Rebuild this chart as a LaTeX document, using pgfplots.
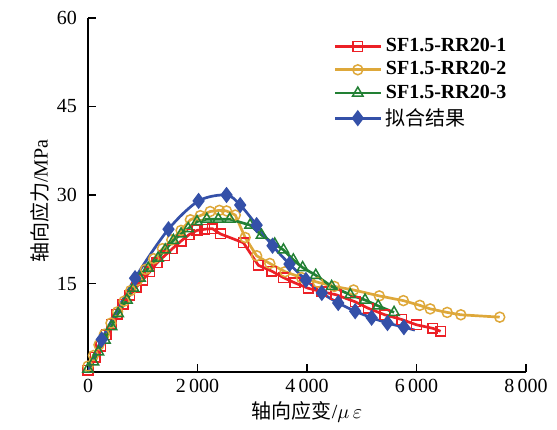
\documentclass[border=0pt]{standalone}
\usepackage{pgfplots}
\pgfplotsset{compat=1.18}
\usepackage{fontspec}
\setmainfont{Liberation Serif}
\newfontfamily\cjk{Noto Sans CJK SC}

\definecolor{cred}{RGB}{236,32,38}
\definecolor{cyel}{RGB}{222,168,58}
\definecolor{cgrn}{RGB}{34,128,52}
\definecolor{cblu}{RGB}{52,80,168}

\begin{document}
\begin{tikzpicture}
\begin{axis}[
    name=ax,
    scale only axis,
    width=219pt, height=177pt,
    xmin=0, xmax=8000, ymin=0, ymax=60,
    axis x line=bottom, axis y line=left,
    axis line style={-, line width=0.8pt},
    xtick={0,2000,4000,6000,8000},
    ytick={15,30,45,60},
    tick align=inside,
    major tick length=4pt,
    tick style={black, line width=0.6pt},
    /pgf/number format/assume math mode=true,
    /pgf/number format/1000 sep={\,},
    scaled x ticks=false,
    ticklabel style={font=\fontsize{10}{12}\selectfont},
    yticklabel style={xshift=-2pt},
    xlabel={{\cjk 轴向应变}/$\mu\,\varepsilon$},
    ylabel={{\cjk 轴向应力}/MPa},
    label style={font=\fontsize{10}{12}\selectfont},
    xlabel style={at={(rel axis cs:0.5,0)}, anchor=center, yshift=-20pt},
    ylabel style={at={(rel axis cs:0,0.5)}, anchor=center, yshift=24pt, xshift=-3pt},
    legend style={draw=none, fill=none, at={(rel axis cs:0.56,0.955)}, anchor=north west,
        font=\fontsize{10}{12}\selectfont\bfseries, row sep=-0.5pt, inner sep=0pt},
    legend cell align=left,
    legend image code/.code={\draw[mark indices={2}] plot coordinates {(0cm,0cm) (0.4cm,0cm) (0.8cm,0cm)};},
    every axis plot/.append style={line width=1.35pt},
]
\addplot[cred, mark=square, mark size=2.4pt, mark options={solid, line width=0.75pt, fill=white}] coordinates {
(0,0.3) (130,2.5) (230,4.4) (330,6.3) (430,8.1) (530,9.8) (640,11.5) (760,13.0)
(880,14.4) (1000,15.6) (1130,17.0) (1260,18.5) (1400,19.7) (1540,20.9) (1700,22.2)
(1850,23.3) (1990,24.0) (2130,24.2) (2270,24.3) (2420,23.4) (2840,21.9) (3110,18.1)
(3355,17.1) (3570,16.0) (3780,15.1) (4020,14.2) (4270,13.6) (4530,13.1) (4880,11.9)
(5120,10.8) (5420,9.7) (5730,8.9) (6000,8.0) (6300,7.4) (6440,6.9)
};
\addlegendentry{SF1.5-RR20-1}
\addplot[cyel, mark=o, mark size=2.5pt, mark options={solid, line width=0.75pt, fill=white}] coordinates {
(0,1.0) (100,2.8) (200,4.6) (300,6.4) (420,8.3) (540,10.2) (660,12.0) (780,13.8)
(900,15.5) (1050,17.4) (1200,19.2) (1360,20.9) (1530,22.4) (1700,24.0) (1870,25.8)
(2050,26.5) (2230,27.2) (2400,27.4) (2530,27.3) (2690,26.6) (2870,22.8) (3080,19.7)
(3320,18.4) (3600,17.0) (3900,16.0) (4200,15.2) (4500,14.5) (4850,13.9) (5320,12.9)
(5760,12.1) (6060,11.3) (6250,10.7) (6560,10.1) (6810,9.7) (7520,9.3)
};
\addlegendentry{SF1.5-RR20-2}
\addplot[cgrn, mark=triangle, mark size=3pt, mark options={solid, line width=0.75pt, fill=white}] coordinates {
(0,0.5) (100,1.7) (190,3.4) (310,5.4) (430,7.7) (550,9.9) (710,12.2) (830,14.2)
(950,15.9) (1100,17.6) (1280,19.3) (1410,20.7) (1560,22.3) (1700,23.4) (1830,24.3)
(1990,25.5) (2170,25.9) (2380,25.9) (2590,25.9) (2960,24.9) (3170,23.2) (3410,21.7)
(3570,20.7) (3750,19.0) (3920,17.7) (4160,16.4) (4450,14.5) (4790,13.1) (5060,12.2)
(5300,11.2) (5590,10.1)
};
\addlegendentry{SF1.5-RR20-3}
\addplot[cblu, smooth, mark=diamond*, mark size=3pt, mark indices={2,...,17}, mark options={solid, fill=cblu}] coordinates {
(0,0) (250,5.5) (860,15.9) (1470,24.2) (2020,29.0) (2530,30.0) (2780,28.3) (3080,24.9)
(3370,21.4) (3680,18.3) (3980,15.6) (4270,13.4) (4570,11.7) (4880,10.3) (5180,9.2)
(5470,8.3) (5770,7.6) (5970,7.1)
};
\addlegendentry{\cjk\mdseries 拟合结果}
\end{axis}
\path ([xshift=-44pt,yshift=-28.5pt]ax.south west) rectangle ([xshift=15.5pt,yshift=9pt]ax.north east);
\end{tikzpicture}
\end{document}
